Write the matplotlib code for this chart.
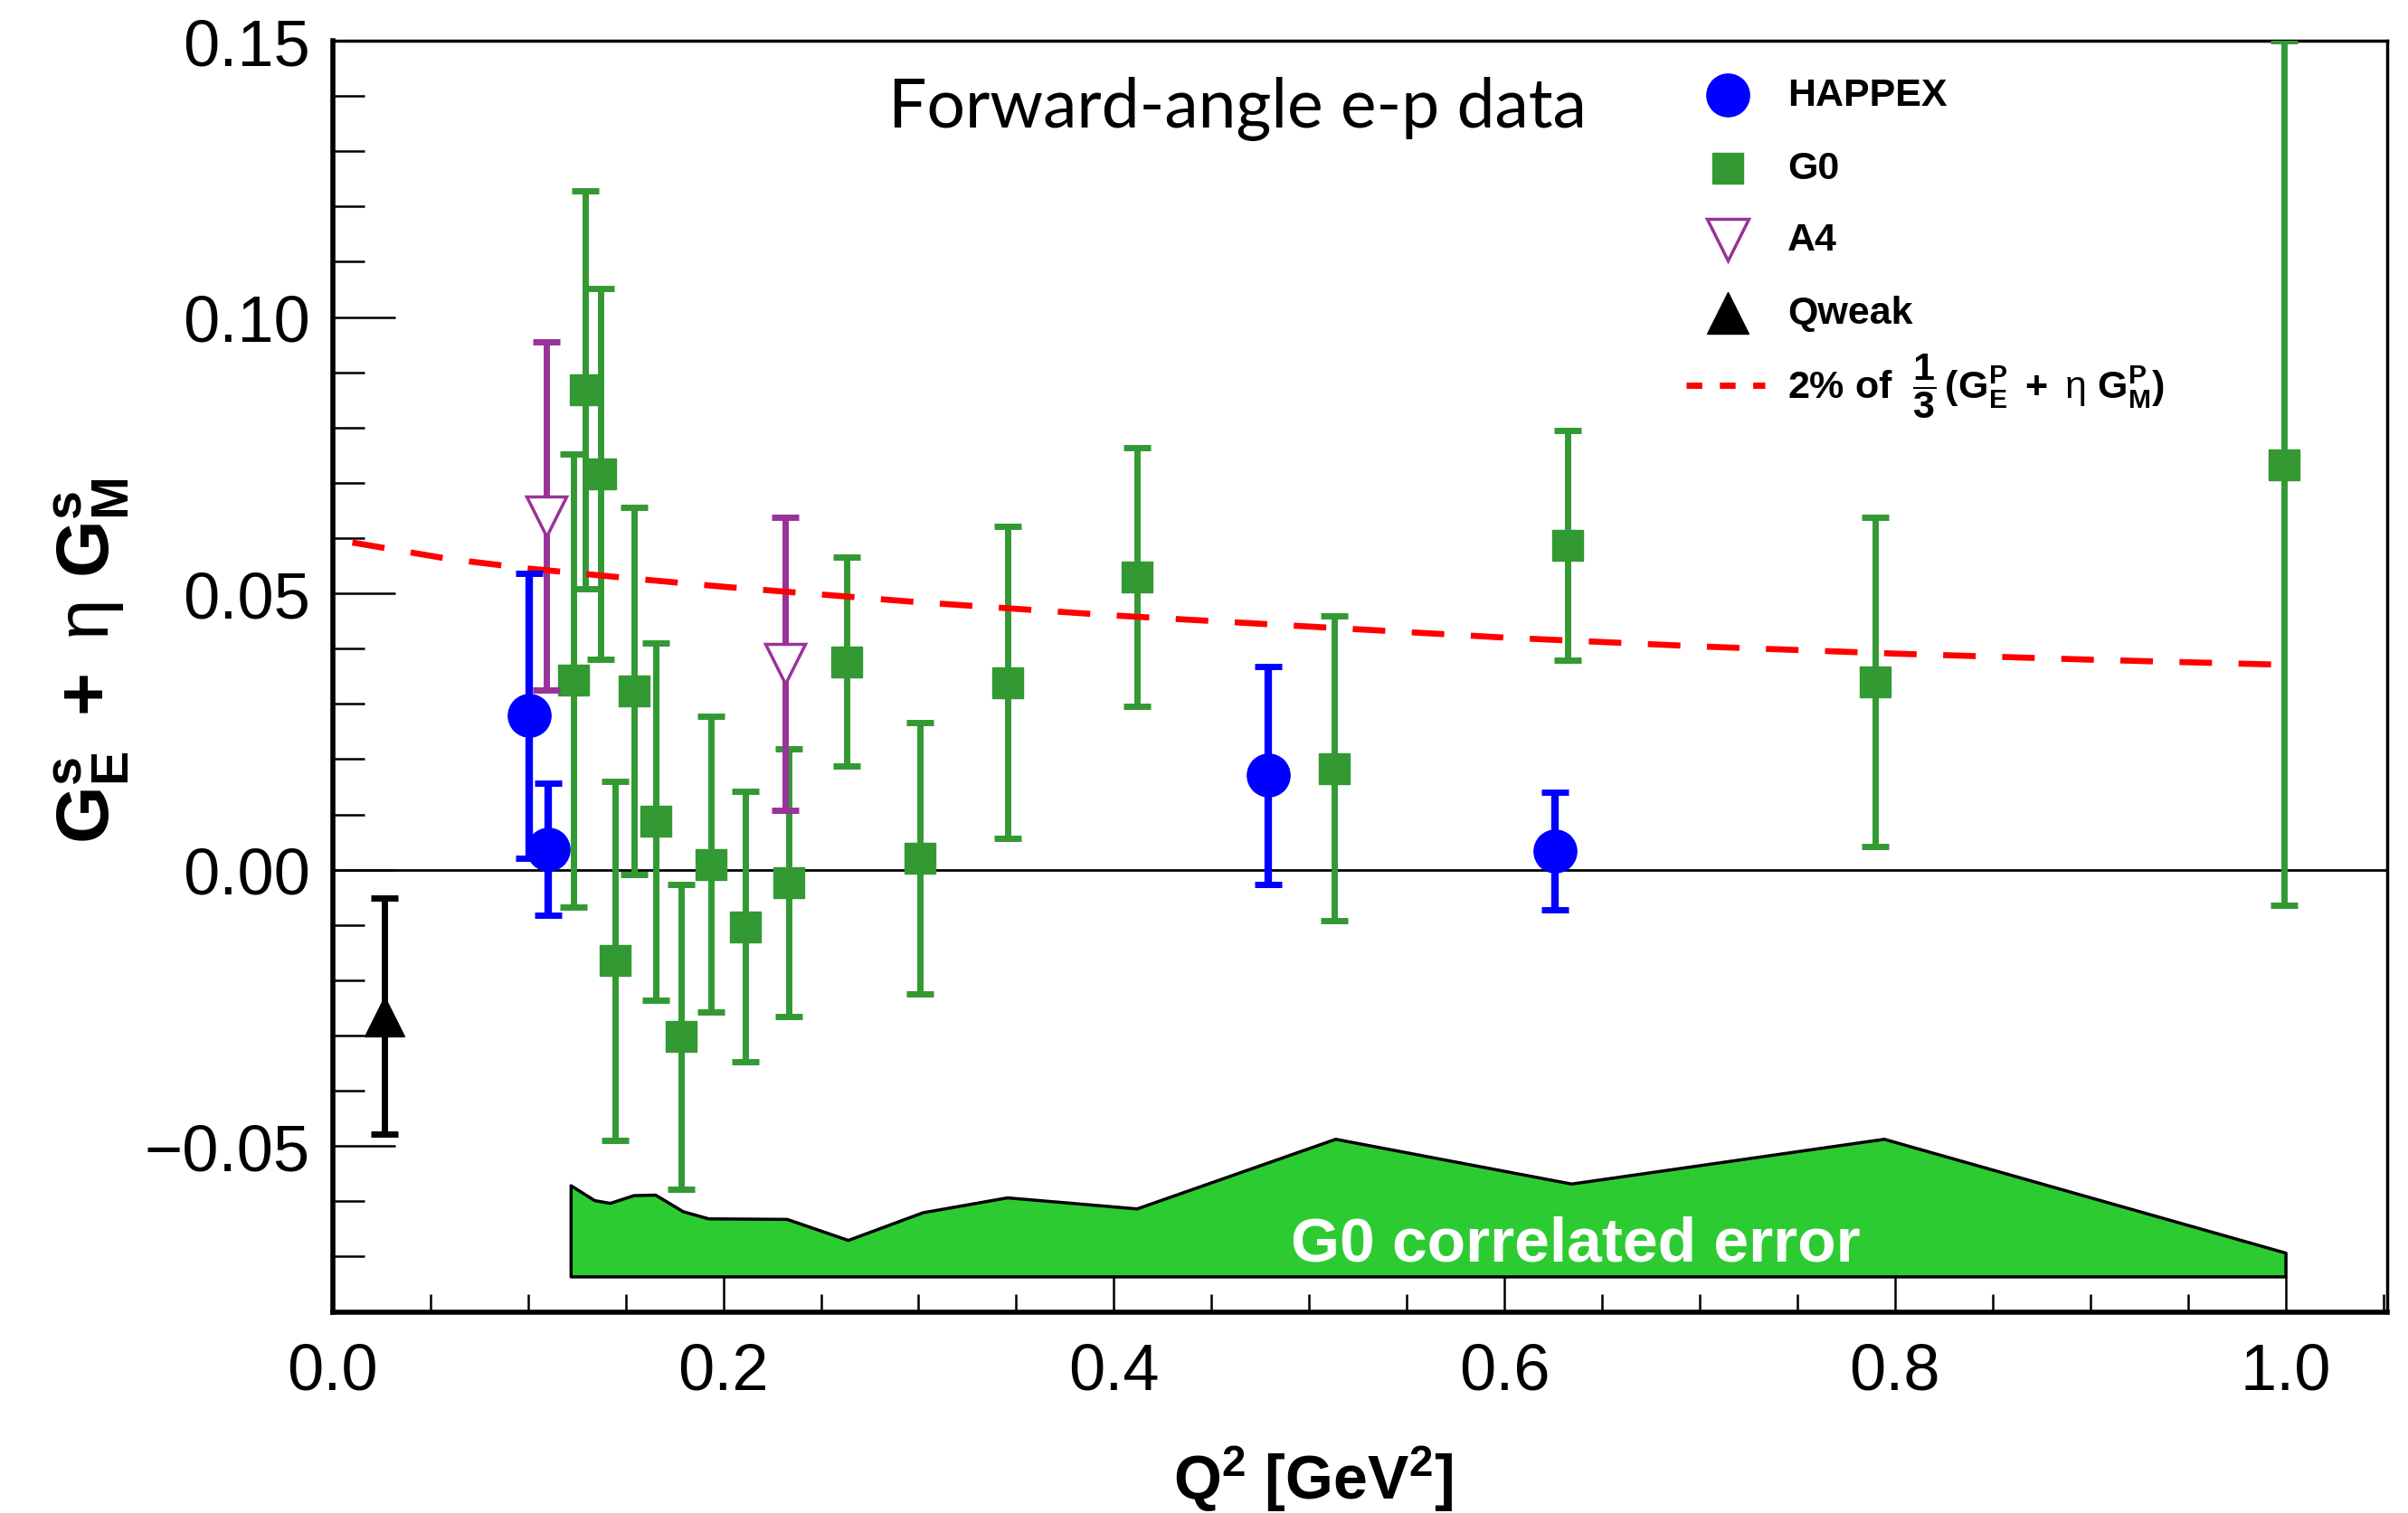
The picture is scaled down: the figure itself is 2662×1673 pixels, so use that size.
import matplotlib
matplotlib.use('Agg')
import matplotlib.pyplot as plt
import numpy as np
from matplotlib.ticker import MultipleLocator, FuncFormatter

plt.rcParams['font.family'] = ['Liberation Sans', 'DejaVu Sans']
plt.rcParams['mathtext.fontset'] = 'custom'
plt.rcParams['mathtext.rm'] = 'Liberation Sans'
plt.rcParams['mathtext.it'] = 'Liberation Sans:italic'
plt.rcParams['mathtext.bf'] = 'Liberation Sans:bold'

# HAPPEX
happex_q2 = [0.1004, 0.1103, 0.4790, 0.6258]
happex_val = [0.0279, 0.0037, 0.0171, 0.0034]
happex_err = [0.0258, 0.0120, 0.0197, 0.0106]

# G0 forward angle
g0_q2 = [0.1235, 0.1293, 0.1371, 0.1444, 0.1544, 0.1656, 0.1783, 0.1935, 0.2115,
         0.2336, 0.2633, 0.3008, 0.3454, 0.4117, 0.5130, 0.6324, 0.7900, 0.9993]
g0_val = [0.0343, 0.0869, 0.0716, -0.0165, 0.0324, 0.0087, -0.0302, 0.0010, -0.0103,
          -0.0023, 0.0376, 0.0021, 0.0339, 0.0530, 0.0183, 0.0587, 0.0340, 0.0733]
g0_err = [0.0410, 0.0360, 0.0336, 0.0325, 0.0332, 0.0323, 0.0276, 0.0267, 0.0245,
          0.0242, 0.0189, 0.0245, 0.0282, 0.0234, 0.0276, 0.0208, 0.0298, 0.0797]

# A4
a4_q2 = [0.1093, 0.2315]
a4_val = [0.0640, 0.0372]
a4_err = [0.0315, 0.0265]

# Qweak
qweak_q2 = [0.0264]
qweak_val = [-0.0265]
qweak_err = [0.0213]

# 2% of 1/3 (GE^p + eta GM^p)
curve_q2 = [0.01, 0.06, 0.10, 0.15, 0.20, 0.25, 0.30, 0.40, 0.50, 0.60, 0.70, 0.80, 0.90, 0.997]
curve_val = [0.0592, 0.0562, 0.0545, 0.0528, 0.0512, 0.0498, 0.0484, 0.0460, 0.0440,
             0.0420, 0.0404, 0.0391, 0.0380, 0.0371]

# G0 correlated systematic band
band_q2 = [0.1218, 0.1339, 0.1419, 0.1540, 0.1651, 0.1792, 0.1923, 0.2325, 0.2638, 0.3020,
           0.3453, 0.4117, 0.5134, 0.6342, 0.7943, 1.000]
band_top = [-0.0571, -0.0598, -0.0603, -0.0589, -0.0588, -0.0618, -0.0631, -0.0632,
            -0.0670, -0.0620, -0.0593, -0.0613, -0.0487, -0.0568, -0.0487, -0.0693]
band_floor = -0.0736

YMIN, YMAX = -0.08, 0.15

fig = plt.figure(figsize=(26.62, 16.74), dpi=100)
ax = fig.add_axes([0.1382, 0.1329, 0.8531, 0.8396])

ax.fill_between(band_q2, band_floor, band_top, facecolor='#2dcb32',
                edgecolor='black', linewidth=2.5, zorder=1)
ax.text(0.6365, -0.0707, 'G0 correlated error', color='white', fontsize=50,
        fontweight='bold', ha='center', va='baseline', zorder=2)

ax.axhline(0.0, color='black', lw=2, zorder=2)

# error bars stop at the frame like in ROOT
g0_val_a = np.array(g0_val)
g0_err_a = np.array(g0_err)
g0_hi = np.minimum(g0_err_a, YMAX - g0_val_a)

bar_kw = dict(capsize=10.8, capthick=5, linestyle='none')
ax.errorbar(g0_q2, g0_val, yerr=[g0_err_a, g0_hi], fmt='s', color='#339933',
            ms=25, mec='#339933', elinewidth=5, zorder=3, **bar_kw)
ax.errorbar(a4_q2, a4_val, yerr=a4_err, fmt='none', ecolor='#993399',
            elinewidth=5, zorder=4, **bar_kw)
ax.plot(a4_q2, a4_val, 'v', ms=31, mfc='white', mec='#993399', mew=2.5, zorder=6)
ax.errorbar(happex_q2, happex_val, yerr=happex_err, fmt='o', color='#0000ff',
            ms=34, elinewidth=6, zorder=5, **bar_kw)
ax.errorbar(qweak_q2, qweak_val, yerr=qweak_err, fmt='^', color='black',
            ms=31, elinewidth=5, zorder=5, **bar_kw)

ax.plot(curve_q2, curve_val, color='#ff0000', lw=4.8, dashes=(5.4, 4.4), zorder=4.5)

ax.set_xlim(0.0, 1.052)
ax.set_ylim(YMIN, YMAX)

ax.xaxis.set_major_locator(MultipleLocator(0.2))
ax.xaxis.set_minor_locator(MultipleLocator(0.05))
ax.yaxis.set_major_locator(MultipleLocator(0.05))
ax.yaxis.set_minor_locator(MultipleLocator(0.01))
ax.xaxis.set_major_formatter(FuncFormatter(lambda v, p: ('%.1f' % v).replace('-', '\u2212')))
ax.yaxis.set_major_formatter(FuncFormatter(lambda v, p: ('%.2f' % v).replace('-', '\u2212')))

ax.tick_params(which='both', direction='in', top=False, right=False, labelsize=52)
ax.xaxis.set_tick_params(which='major', length=29, width=1.8, pad=24)
ax.xaxis.set_tick_params(which='minor', length=14.5, width=1.8)
ax.yaxis.set_tick_params(which='major', length=50, width=1.8, pad=18)
ax.yaxis.set_tick_params(which='minor', length=25, width=1.8)

for side in ['left', 'bottom']:
    ax.spines[side].set_linewidth(4)
for side in ['top', 'right']:
    ax.spines[side].set_linewidth(2.5)

ax.set_xlabel(r'$\mathbf{Q^{2}\ [GeV^{2}]}$', fontsize=49, va='center')
ax.xaxis.set_label_coords(0.477, -0.131)
ax.set_ylabel(r'$\mathbf{G^{s}_{E}\ +}\ \mathrm{\eta}\ \mathbf{G^{s}_{M}}$', fontsize=59, va='center')
ax.yaxis.set_label_coords(-0.117, 0.513)

ax.text(0.4405, 0.9324, 'Forward-angle e-p data', transform=ax.transAxes,
        ha='center', va='baseline', fontsize=54, family='Lato')

# legend drawn by hand, ROOT style
mark_x, text_x = 0.6792, 0.7083
rows = [0.9572, 0.8994, 0.8434, 0.7858, 0.7289]
ax.plot([mark_x], [rows[0]], 'o', color='#0000ff', ms=34, transform=ax.transAxes, clip_on=False)
ax.plot([mark_x], [rows[1]], 's', color='#339933', ms=25, transform=ax.transAxes, clip_on=False)
ax.plot([mark_x], [rows[2]], 'v', ms=33, mfc='white', mec='#993399', mew=2.5,
        transform=ax.transAxes, clip_on=False)
ax.plot([mark_x], [rows[3]], '^', color='black', ms=33, transform=ax.transAxes, clip_on=False)
ax.plot([0.659, 0.6973], [rows[4], rows[4]], color='#ff0000', lw=5, dashes=(2.5, 2.8),
        transform=ax.transAxes, clip_on=False)

labels = ['HAPPEX', 'G0', 'A4', 'Qweak',
          r'2% of  $\mathbf{\dfrac{1}{3}\,(G^{P}_{E}\ +}\ \mathrm{\eta}\ \mathbf{G^{P}_{M})}$']
for lab, ry in zip(labels, rows):
    ax.text(text_x, ry, lab, transform=ax.transAxes, fontsize=31, fontweight='bold',
            ha='left', va='center')

fig.savefig('out.png', dpi=100, facecolor='white')
